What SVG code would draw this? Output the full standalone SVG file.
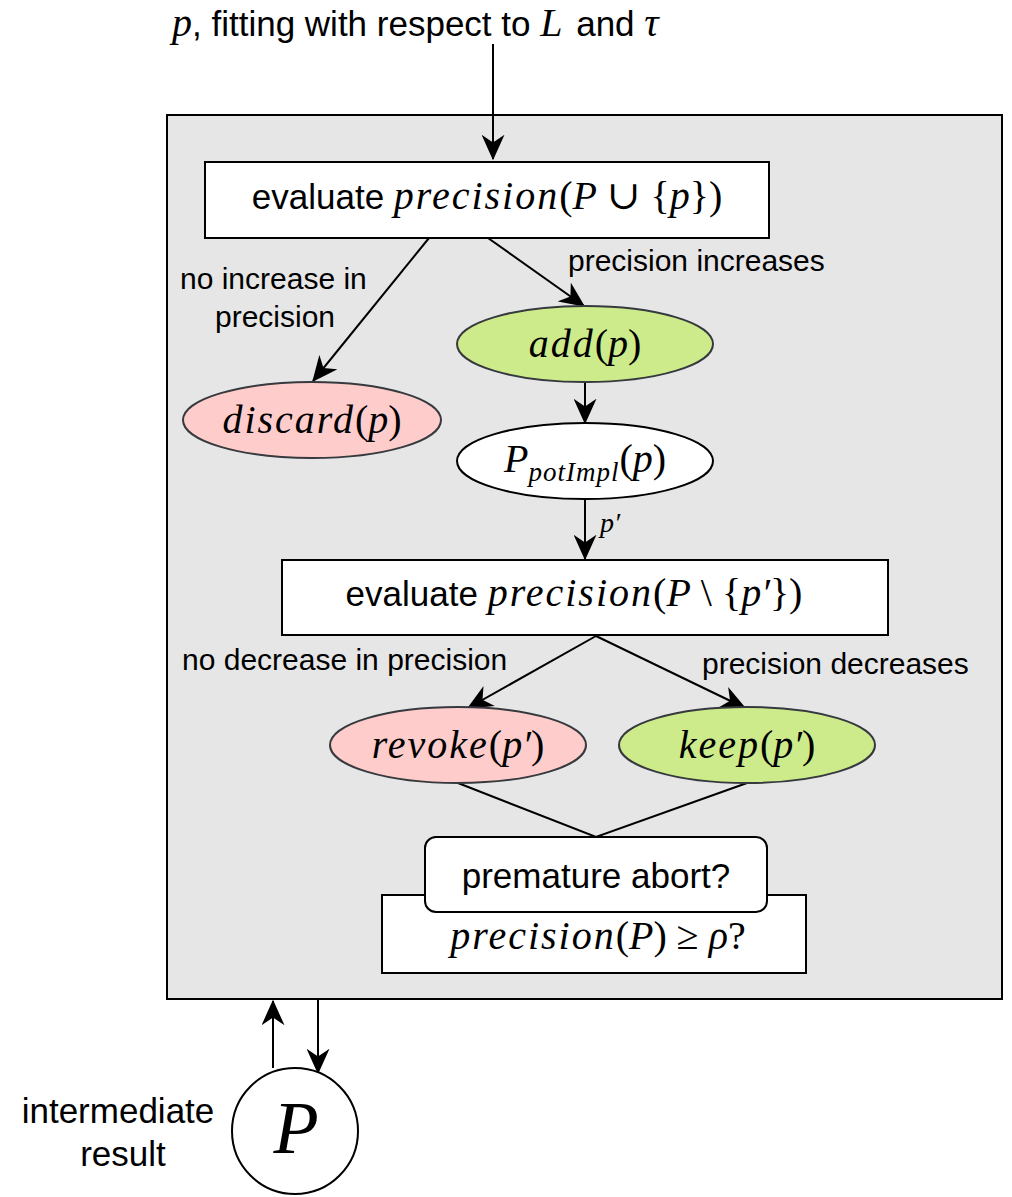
<svg xmlns="http://www.w3.org/2000/svg" width="1012" height="1197" viewBox="0 0 1012 1197">
<defs>
<marker id="arr" viewBox="0 0 20 18" refX="19" refY="9" markerWidth="26" markerHeight="23" markerUnits="userSpaceOnUse" orient="auto">
<path d="M0,0 L20,9 L0,18 L6,9 z" fill="#000"/>
</marker>
<style>
.sans{font-family:"Liberation Sans",Arial,sans-serif;fill:#000}
.lbl{font-size:30px}
.big{font-size:35px}
.m{font-family:"Liberation Serif","DejaVu Serif",serif;font-size:40px}
.i{font-style:italic}
.w{letter-spacing:2px}
.edge{stroke:#000;stroke-width:2;fill:none}
.box{fill:#fff;stroke:#000;stroke-width:2}
.pink{fill:#ffcccc;stroke:#36393d;stroke-width:2}
.green{fill:#cdeb8b;stroke:#36393d;stroke-width:2}
.white{fill:#fff;stroke:#000;stroke-width:2}
</style>
</defs>
<rect width="1012" height="1197" fill="#fff"/>
<g id="container">
<rect x="167" y="115" width="835" height="884" fill="#e6e6e6" stroke="#000" stroke-width="2"/>
</g>
<g id="input-label">
<text x="172" y="36" class="sans big"><tspan class="m i">p</tspan>, fitting with respect to <tspan class="m i" style="letter-spacing:4px">L</tspan> and <tspan class="m i">τ</tspan></text>
</g>
<g id="connectors">
<line class="edge" x1="493" y1="44" x2="493" y2="159" marker-end="url(#arr)"/>
<line class="edge" x1="429" y1="238" x2="313" y2="381" marker-end="url(#arr)"/>
<line class="edge" x1="488" y1="238" x2="584" y2="306" marker-end="url(#arr)"/>
<line class="edge" x1="585" y1="382" x2="585" y2="423" marker-end="url(#arr)"/>
<line class="edge" x1="585" y1="500" x2="585" y2="559" marker-end="url(#arr)"/>
<line class="edge" x1="596" y1="636" x2="468" y2="708" marker-end="url(#arr)"/>
<line class="edge" x1="596" y1="636" x2="745" y2="708" marker-end="url(#arr)"/>
<polyline class="edge" points="458,783 596,837 747,783"/>
<line class="edge" x1="273" y1="1068" x2="273" y2="1001" marker-end="url(#arr)"/>
<line class="edge" x1="318" y1="1000" x2="318" y2="1073" marker-end="url(#arr)"/>
<text x="180" y="289" class="sans lbl">no increase in</text>
<text x="215" y="327" class="sans lbl">precision</text>
<text x="568" y="271" class="sans lbl">precision increases</text>
<text x="600" y="532" class="m i" style="font-size:28px">p′</text>
<text x="182" y="670" class="sans lbl">no decrease in precision</text>
<text x="702" y="674" class="sans lbl">precision decreases</text>
</g>
<g id="eval-union">
<rect class="box" x="205" y="162" width="564" height="76"/>
<text x="487" y="209" text-anchor="middle" class="sans big">evaluate <tspan class="m i w">precision</tspan><tspan class="m">(</tspan><tspan class="m i">P</tspan><tspan class="m"> ∪ {</tspan><tspan class="m i">p</tspan><tspan class="m">})</tspan></text>
</g>
<g id="discard">
<ellipse class="pink" cx="312" cy="420" rx="129" ry="38"/>
<text x="312" y="433" text-anchor="middle" class="m"><tspan class="i w">discard</tspan>(<tspan class="i">p</tspan>)</text>
</g>
<g id="add">
<ellipse class="green" cx="585" cy="344" rx="128" ry="38"/>
<text x="585" y="357" text-anchor="middle" class="m"><tspan class="i w">add</tspan>(<tspan class="i">p</tspan>)</text>
</g>
<g id="potimpl">
<ellipse class="white" cx="585" cy="461" rx="128" ry="38"/>
<text x="585" y="472" text-anchor="middle" class="m"><tspan class="i">P</tspan><tspan class="i" style="font-size:27px;letter-spacing:1px" dy="9">potImpl</tspan><tspan dy="-9">(</tspan><tspan class="i">p</tspan>)</text>
</g>
<g id="eval-minus">
<rect class="box" x="282" y="560" width="606" height="75"/>
<text x="574" y="606" text-anchor="middle" class="sans big">evaluate <tspan class="m i w">precision</tspan><tspan class="m">(</tspan><tspan class="m i">P</tspan><tspan class="m"> \ {</tspan><tspan class="m i">p′</tspan><tspan class="m">})</tspan></text>
</g>
<g id="revoke">
<ellipse class="pink" cx="458" cy="745" rx="128" ry="38"/>
<text x="458" y="758" text-anchor="middle" class="m"><tspan class="i w">revoke</tspan>(<tspan class="i">p′</tspan>)</text>
</g>
<g id="keep">
<ellipse class="green" cx="747" cy="745" rx="128" ry="38"/>
<text x="747" y="758" text-anchor="middle" class="m"><tspan class="i w">keep</tspan>(<tspan class="i">p′</tspan>)</text>
</g>
<g id="threshold">
<rect class="box" x="382" y="895" width="424" height="78"/>
<text x="598" y="949" text-anchor="middle" class="m"><tspan class="i w">precision</tspan>(<tspan class="i">P</tspan>) ≥ <tspan class="i">ρ</tspan>?</text>
</g>
<g id="premature-abort">
<rect x="425" y="837" width="342" height="75" rx="11" ry="11" fill="#fff" stroke="#000" stroke-width="2"/>
<text x="596" y="888" text-anchor="middle" class="sans big">premature abort?</text>
</g>
<g id="result">
<circle cx="295" cy="1131" r="63" fill="#fff" stroke="#000" stroke-width="2"/>
<text x="296" y="1153" text-anchor="middle" class="m i" style="font-size:74px">P</text>
<text x="118" y="1123" text-anchor="middle" class="sans big">intermediate</text>
<text x="123" y="1166" text-anchor="middle" class="sans big">result</text>
</g>
</svg>
